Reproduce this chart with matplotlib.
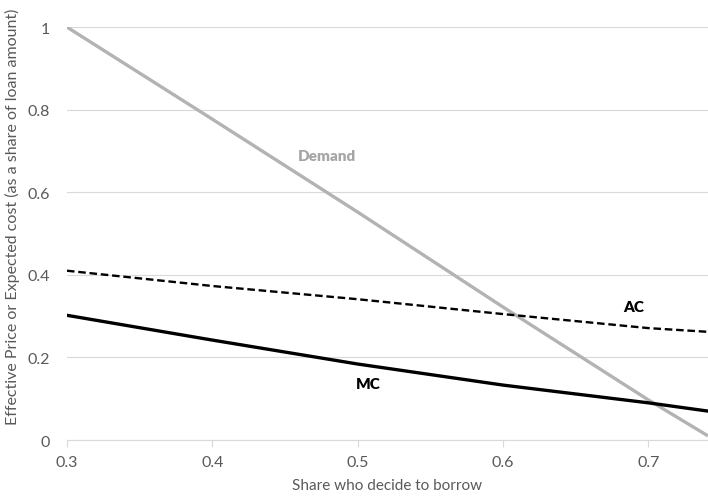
import numpy as np
import matplotlib
matplotlib.use('Agg')
import matplotlib.pyplot as plt

plt.rcParams['font.family'] = ['Lato', 'DejaVu Sans']

# values
share = [0.30, 0.40, 0.50, 0.60, 0.70, 0.741]
demand = [1.00, 0.777, 0.552, 0.322, 0.097, 0.010]
ac = [0.410, 0.373, 0.341, 0.305, 0.271, 0.262]
mc = [0.302, 0.242, 0.184, 0.133, 0.090, 0.070]

xticks = [0.3, 0.4, 0.5, 0.6, 0.7]
yticks = [0, 0.2, 0.4, 0.6, 0.8, 1]
ytick_labels = ['0', '0.2', '0.4', '0.6', '0.8', '1']

fig = plt.figure(figsize=(7.08, 5.02), dpi=100)
ax = fig.add_axes([0.0946, 0.1215, 0.9054, 0.8225])

ax.plot(share, demand, color='#b3b3b3', lw=2.4, solid_capstyle='butt', zorder=3)
ax.plot(share, ac, color='black', lw=1.7, ls=(0, (3.2, 1.6)), zorder=3)
ax.plot(share, mc, color='black', lw=2.4, zorder=3)

ax.text(0.479, 0.688, 'Demand', color='#a6a6a6', fontsize=11, fontweight='heavy',
        ha='center', va='center')
ax.text(0.690, 0.324, 'AC', color='black', fontsize=11, fontweight='heavy',
        ha='center', va='center')
ax.text(0.507, 0.138, 'MC', color='black', fontsize=11, fontweight='heavy',
        ha='center', va='center')

ax.set_xlim(0.3, 0.741)
ax.set_ylim(0, 1)
ax.set_xticks(xticks)
ax.set_xticklabels([str(t) for t in xticks])
ax.set_yticks(yticks)
ax.set_yticklabels(ytick_labels)
ax.yaxis.grid(True, color='#d9d9d9', lw=0.8)
ax.set_axisbelow(True)
for s in ['top', 'right', 'left']:
    ax.spines[s].set_visible(False)
ax.spines['bottom'].set_color('#d9d9d9')
ax.spines['bottom'].set_linewidth(0.8)
ax.tick_params(axis='x', colors='#d9d9d9', labelcolor='#595959', length=5,
               width=0.8, labelsize=11.5, pad=6)
ax.tick_params(axis='y', length=0, labelcolor='#595959', labelsize=11.5, pad=12)

ax.set_xlabel('Share who decide to borrow', color='#595959', fontsize=11, labelpad=6)
fig.text(12 / 708, 0.568, 'Effective Price or Expected cost (as a share of loan amount)',
         color='#595959', fontsize=11.5, rotation=90, ha='center', va='center')

fig.savefig('out.png', dpi=100)
